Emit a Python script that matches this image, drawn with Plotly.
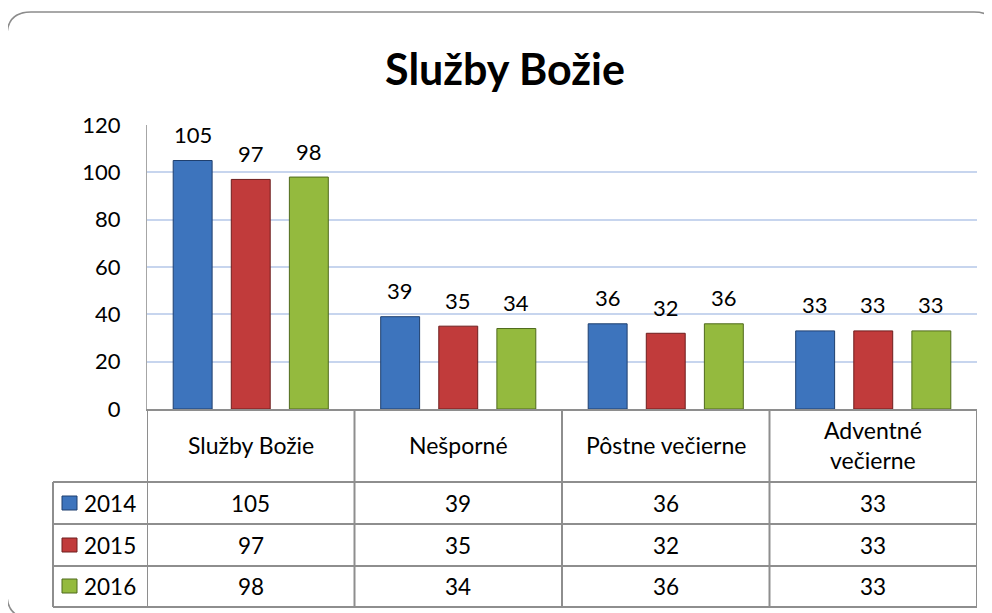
import plotly.graph_objects as go

categories = ["Služby Božie", "Nešporné", "Pôstne večierne", "Adventné večierne"]
header_labels = ["Služby Božie", "Nešporné", "Pôstne večierne", "Adventné<br>večierne"]
years = ["2014", "2015", "2016"]
values_2014 = [105, 39, 36, 33]
values_2015 = [97, 35, 32, 33]
values_2016 = [98, 34, 36, 33]
y_ticks = [0, 20, 40, 60, 80, 100, 120]

series = [values_2014, values_2015, values_2016]
colors = ["#3D74BD", "#C13B3B", "#94BA3E"]
edge = ["#1F3F6E", "#6E1E1E", "#4F6A1C"]

FONT = "Lato, Calibri, Carlito, 'Open Sans', sans-serif"
OFF = 8  # page body margin
W_FIG, H_FIG = 992 - OFF, 613 - OFF
# plot area in screen (reference) pixels
L, R, T, B = 147, 977, 125, 409
PW, PH = R - L, B - T
BARGAP, GROUPGAP = 0.16, 0.33


def px_x(px):
    return (px - L) / PW


def px_y(py):
    return (B - py) / PH


fig = go.Figure()
for yr, vals, c, e in zip(years, series, colors, edge):
    fig.add_trace(go.Bar(
        x=categories, y=vals, name=yr,
        marker=dict(color=c, line=dict(color=e, width=1)),
        showlegend=False, hoverinfo="x+y+name",
    ))

shapes = []
annotations = []

# value labels above bars (data coordinates, pixel shift for the group slot)
slot_px = PW / len(categories) * (1 - BARGAP) / len(years)
for j, vals in enumerate(series):
    for i, v in enumerate(vals):
        annotations.append(dict(x=categories[i], y=v, xref="x", yref="y", text=str(v),
                                showarrow=False, xanchor="center", yanchor="middle",
                                xshift=(j - 1) * slot_px, yshift=26,
                                font=dict(size=22, family=FONT, color="#000")))

# outer rounded border
x0, y0, x1, y1, r = 7, 12, 998, 618, 24
path = (f"M {px_x(x0+r)},{px_y(y0)} L {px_x(x1-r)},{px_y(y0)} "
        f"Q {px_x(x1)},{px_y(y0)} {px_x(x1)},{px_y(y0+r)} "
        f"L {px_x(x1)},{px_y(y1-r)} Q {px_x(x1)},{px_y(y1)} {px_x(x1-r)},{px_y(y1)} "
        f"L {px_x(x0+r)},{px_y(y1)} Q {px_x(x0)},{px_y(y1)} {px_x(x0)},{px_y(y1-r)} "
        f"L {px_x(x0)},{px_y(y0+r)} Q {px_x(x0)},{px_y(y0)} {px_x(x0+r)},{px_y(y0)} Z")
shapes.append(dict(type="path", xref="paper", yref="paper", path=path,
                   line=dict(color="#8C8C8C", width=1.5), layer="below"))

grid_col = "#8E8E8E"
# table rows
row_edges = [409, 482, 524, 566, 607]
for yy in row_edges[1:]:
    shapes.append(dict(type="line", xref="paper", yref="paper",
                       x0=px_x(53), x1=1, y0=px_y(yy), y1=px_y(yy),
                       line=dict(color=grid_col, width=2)))
shapes.append(dict(type="line", xref="paper", yref="paper",
                   x0=px_x(53), x1=px_x(53), y0=px_y(482), y1=px_y(607),
                   line=dict(color=grid_col, width=2)))
for k in range(len(categories) + 1):
    shapes.append(dict(type="line", xref="x", yref="paper",
                       x0=k - 0.5, x1=k - 0.5, y0=px_y(409), y1=px_y(607),
                       line=dict(color=grid_col, width=2)))

# header labels
for i, lab in enumerate(header_labels):
    annotations.append(dict(x=categories[i], y=px_y(445), xref="x", yref="paper", text=lab,
                            showarrow=False, xanchor="center", yanchor="middle",
                            font=dict(size=23, family=FONT, color="#000"), align="center"))
# row values + legend keys
row_centers = [503, 545, 586]
for yr, vals, c, e, rc in zip(years, series, colors, edge, row_centers):
    for i, v in enumerate(vals):
        annotations.append(dict(x=categories[i], y=px_y(rc), xref="x", yref="paper",
                                text=str(v), showarrow=False, xanchor="center",
                                yanchor="middle",
                                font=dict(size=22.5, family=FONT, color="#000")))
    annotations.append(dict(x=px_x(82), y=px_y(rc), xref="paper", yref="paper", text=yr,
                            xanchor="left", yanchor="middle", showarrow=False,
                            font=dict(size=22.5, family=FONT, color="#000")))
    shapes.append(dict(type="rect", xref="paper", yref="paper",
                       x0=px_x(62), x1=px_x(77), y0=px_y(rc - 7), y1=px_y(rc + 7),
                       fillcolor=c, line=dict(color=e, width=1)))

fig.update_layout(
    width=W_FIG, height=H_FIG,
    margin=dict(l=L - OFF, r=992 - R, t=T - OFF, b=613 - B, pad=0),
    paper_bgcolor="white", plot_bgcolor="white",
    title=dict(text="<b>Služby Božie</b>", x=(505 - OFF) / W_FIG, xref="container",
               xanchor="center",
               y=1 - (70 - OFF) / H_FIG, yref="container", yanchor="middle",
               font=dict(size=43, family=FONT, color="#000")),
    barmode="group", bargap=BARGAP, bargroupgap=GROUPGAP,
    xaxis=dict(showticklabels=False, showgrid=False, showline=True,
               linecolor=grid_col, linewidth=2, ticks="", range=[-0.5, 3.5],
               fixedrange=True),
    yaxis=dict(range=[0, 120], tickvals=y_ticks, showgrid=True,
               gridcolor="#C7D5EE", gridwidth=2, zeroline=False,
               showline=True, linecolor="#A6A6A6", linewidth=1,
               ticks="", ticklabelstandoff=21,
               tickfont=dict(size=22, family=FONT, color="#000")),
    shapes=shapes, annotations=annotations,
)

fig.write_html("out.html")
